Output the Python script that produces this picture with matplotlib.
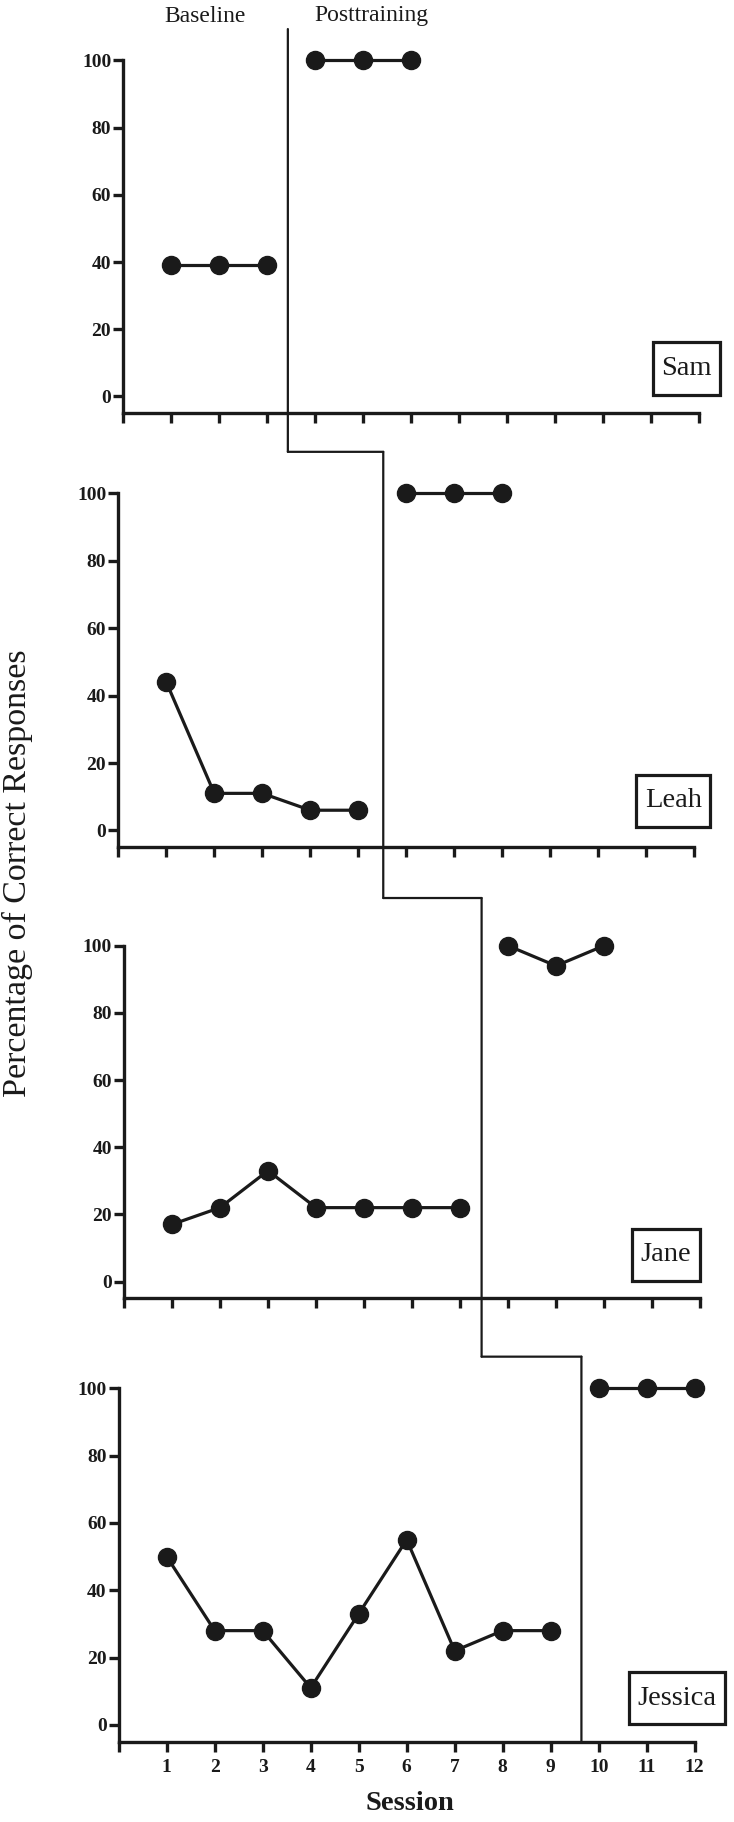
import matplotlib
matplotlib.use("Agg")
import matplotlib.pyplot as plt
from matplotlib.patches import ConnectionPatch
from matplotlib.transforms import blended_transform_factory

plt.rcParams["font.family"] = ["Liberation Serif", "DejaVu Serif"]

# --- data ---
names = ["Sam", "Leah", "Jane", "Jessica"]
base_sessions = [[1, 2, 3], [1, 2, 3, 4, 5], [1, 2, 3, 4, 5, 6, 7],
                 [1, 2, 3, 4, 5, 6, 7, 8, 9]]
base_values = [[39, 39, 39], [44, 11, 11, 6, 6], [17, 22, 33, 22, 22, 22, 22],
               [50, 28, 28, 11, 33, 55, 22, 28, 28]]
post_sessions = [[4, 5, 6], [6, 7, 8], [8, 9, 10], [10, 11, 12]]
post_values = [[100, 100, 100], [100, 100, 100], [100, 94, 100],
               [100, 100, 100]]
phase_x = [3.43, 5.52, 7.45, 9.64]
phase_top = [109.3, 112.3, 114.2, 109.4]
y_ticks = [0, 20, 40, 60, 80, 100]
x_ticks = list(range(0, 13))
x_ticklabels = [""] + [str(i) for i in range(1, 13)]

# --- layout (pixels of a 734x1822 canvas) ---
W, H = 734, 1822
boxes = [(123.3, 699.0, 60.3, 413.3),
         (118.3, 694.3, 493.3, 847.3),
         (124.0, 700.0, 945.7, 1298.3),
         (118.7, 694.7, 1388.3, 1741.7)]
name_pos = [(11.74, 8.3), (11.56, 8.8), (11.29, 7.9), (11.63, 7.9)]
INK = "#1a1a1a"

fig = plt.figure(figsize=(W / 100, H / 100), dpi=100)
axes = []
for i, (l, r, t, b) in enumerate(boxes):
    ax = fig.add_axes([l / W, 1 - b / H, (r - l) / W, (b - t) / H])
    axes.append(ax)
    ax.plot(base_sessions[i], base_values[i], color=INK, lw=2.3,
            marker="o", ms=13, clip_on=False, zorder=3)
    ax.plot(post_sessions[i], post_values[i], color=INK, lw=2.3,
            marker="o", ms=13, clip_on=False, zorder=3)
    ax.set_xlim(0, 12)
    ax.set_ylim(-5, 100)
    for s in ["top", "right"]:
        ax.spines[s].set_visible(False)
    for s in ["left", "bottom"]:
        ax.spines[s].set_linewidth(2.4)
        ax.spines[s].set_color(INK)
    ax.set_yticks(y_ticks)
    ax.set_yticklabels([str(v) for v in y_ticks], fontweight="bold",
                       fontsize=14)
    ax.set_xticks(x_ticks)
    if i == 3:
        ax.set_xticklabels(x_ticklabels, fontweight="bold", fontsize=14)
    else:
        ax.set_xticklabels([])
    ax.tick_params(axis="y", length=7.2, width=2.4, pad=1.5,
                   color=INK, labelcolor=INK)
    ax.tick_params(axis="x", length=7.2, width=2.4, pad=5,
                   color=INK, labelcolor=INK)
    ax.patch.set_visible(False)
    ax.text(name_pos[i][0], name_pos[i][1], names[i], fontsize=20.5,
            ha="center", va="center", color=INK, zorder=5,
            bbox=dict(boxstyle="square,pad=0.3", fc="white", ec=INK,
                      lw=2.3, mutation_aspect=1.6))

# phase change lines (staircase)
for i, ax in enumerate(axes):
    if i < 3:
        nxt = axes[i + 1]
        tr = blended_transform_factory(ax.transData, nxt.transData)
        fig.add_artist(ConnectionPatch(
            (phase_x[i], phase_top[i]), (phase_x[i], phase_top[i + 1]),
            coordsA=ax.transData, coordsB=tr, lw=1.6, color=INK))
        fig.add_artist(ConnectionPatch(
            (phase_x[i], phase_top[i + 1]), (phase_x[i + 1], phase_top[i + 1]),
            coordsA=tr, coordsB=nxt.transData, lw=1.6, color=INK))
    else:
        fig.add_artist(ConnectionPatch(
            (phase_x[i], phase_top[i]), (phase_x[i], -5),
            coordsA=ax.transData, coordsB=ax.transData, lw=1.6, color=INK))

# phase labels
fig.text(205 / W, 1 - 16 / H, "Baseline", fontsize=17, ha="center",
         va="center", color=INK)
fig.text(371 / W, 1 - 16 / H, "Posttraining", fontsize=17, ha="center",
         va="center", color=INK)

fig.text(17 / W, 1 - 873 / H, "Percentage of Correct Responses",
         fontsize=24.5, rotation=90, ha="center", va="center", color=INK)
fig.text(410 / W, 1 - 1804 / H, "Session", fontsize=20.5, fontweight="bold",
         ha="center", va="center", color=INK)

fig.savefig("out.png", dpi=100)
